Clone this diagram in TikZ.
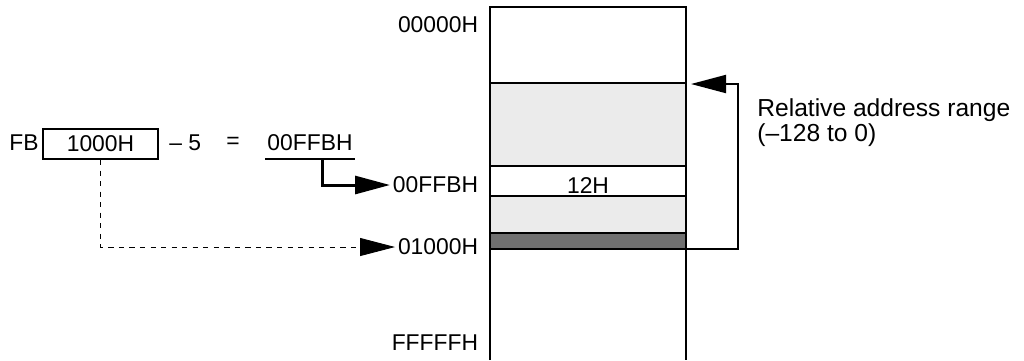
\documentclass[tikz,border=0pt]{standalone}
\usepackage{fontspec}
\setmainfont{Liberation Sans}
\usepackage{xcolor}
\usetikzlibrary{arrows.meta,positioning,calc}
\definecolor{lightfill}{HTML}{EBEBEB}
\definecolor{darkfill}{HTML}{707070}

\begin{document}
\begin{tikzpicture}[x=0.02cm,y=-0.02cm,
    font=\fontsize{13}{14}\selectfont,
    addr/.style={anchor=east,inner sep=1.5pt},
    bigtip/.style={-{Triangle[length=0.7cm,width=0.36cm]}},
    memline/.style={line width=1.1pt}]
    \useasboundingbox (0,0) rectangle (1024,360);

    % Memory map
    \fill[lightfill] (490,83) rectangle (686,166);
    \fill[lightfill] (490,196) rectangle (686,233);
    \fill[darkfill] (490,233) rectangle (686,249);
    \draw[memline] (490,360) -- (490,7) -- (686,7) -- (686,360);
    \foreach \y in {83,166,196,233,249}
        \draw[memline] (490,\y) -- (686,\y);
    \node (val) at (588,186) {12H};

    % Addresses
    \node[addr] (a0) at (481,25) {00000H};
    \node[addr] (aF) at (481,185) {00FFBH};
    \node[addr] (a1) at (481,247) {01000H};
    \node[addr] (aE) at (481,343) {FFFFFH};

    % Calculation
    \node[anchor=west,inner sep=0pt] (fb) at (9,143) {FB};
    \node[draw,memline,minimum width=2.3cm,minimum height=0.6cm] (reg) at (100.5,144) {1000H};
    \node[anchor=west,inner sep=0pt] (minus) at (169,143) {\textendash\ 5};
    \node (eq) at (233,143) {=};
    \node[inner xsep=1pt,inner ysep=4.3pt] (res) at (310,143) {00FFBH};
    \draw[line width=0.9pt] (res.south west) -- (res.south east);

    % Arrows to the map
    \draw[line width=1.7pt,bigtip] ($(res.south west)!0.64!(res.south east)$) |- (aF.west);
    \draw[dashed,line width=0.5pt,bigtip] (reg.south) |- (a1.west);

    % Relative range
    \coordinate (top) at (691,84);
    \coordinate (base) at (686,249);
    \coordinate (bend) at (738,249);
    \draw[memline,bigtip] (base) -- (bend) |- (top);
    \node[anchor=north west,align=left,inner sep=0pt,font=\fontsize{14}{14.5}\selectfont] (rel) at (757,98)
        {Relative address range\\(\textendash128 to 0)};
\end{tikzpicture}
\end{document}
